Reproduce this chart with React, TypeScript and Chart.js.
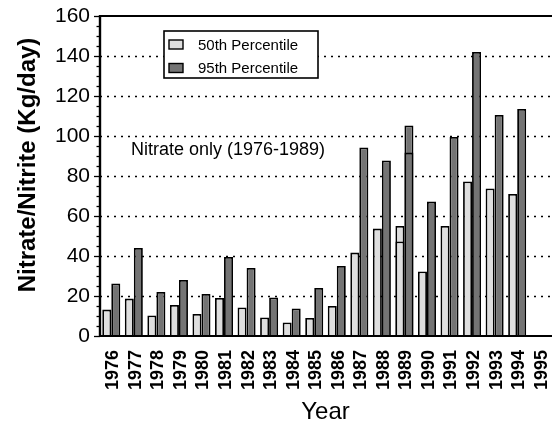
import { useEffect, useRef } from "react";
import { Chart, registerables } from "chart.js";

Chart.register(...registerables);

const FONT = "'Liberation Sans', Arial, Helvetica, sans-serif";

const years = [
  "1976", "1977", "1978", "1979", "1980", "1981", "1982", "1983", "1984", "1985",
  "1986", "1987", "1988", "1989", "1990", "1991", "1992", "1993", "1994", "1995",
];

// Nitrate/nitrite loads, kg/day
const p50 = [13.2, 18.7, 10.3, 15.5, 11, 19, 14.3, 9.3, 6.8, 9, 15, 41.7, 53.7, 47.3, 32.3, 55, 77.3, 73.8, 71, null];
const p95 = [26.3, 44, 22, 28, 21, 39.5, 34, 19.3, 13.8, 24, 35, 94.3, 87.8, 91.7, 67.2, 99.5, 142, 110.5, 113.5, null];

// 1989 carries a second, taller estimate drawn behind the first one
const p50Second = [null, null, null, null, null, null, null, null, null, null, null, null, null, 55, null, null, null, null, null, null];
const p95Second = [null, null, null, null, null, null, null, null, null, null, null, null, null, 105.3, null, null, null, null, null, null];

const yTicks = [0, 20, 40, 60, 80, 100, 120, 140, 160];

const LIGHT = "#dedede";
const DARK = "#747474";

const legendItems = [
  { label: "50th Percentile", color: LIGHT },
  { label: "95th Percentile", color: DARK },
];

const note = "Nitrate only (1976-1989)";
const yTitle = "Nitrate/Nitrite (Kg/day)";

const framePlugin = {
  id: "frame",
  beforeDatasetsDraw(chart: any) {
    const { ctx, chartArea: a, scales } = chart;
    const y = scales.y;
    ctx.save();
    ctx.strokeStyle = "#000";
    ctx.lineWidth = 1.3;
    ctx.setLineDash([2, 5]);
    for (const v of yTicks) {
      if (v <= y.min || v >= y.max) continue;
      const py = Math.round(y.getPixelForValue(v)) + 0.5;
      ctx.beginPath();
      ctx.moveTo(a.left, py);
      ctx.lineTo(chart.width, py);
      ctx.stroke();
    }
    ctx.restore();
  },
  afterDatasetsDraw(chart: any) {
    const { ctx, chartArea: a, scales } = chart;
    const y = scales.y;
    ctx.save();
    ctx.strokeStyle = "#000";
    ctx.setLineDash([]);

    // y-axis tick marks: majors every 20, minors every 5
    ctx.lineWidth = 1.3;
    for (let v = y.min; v <= y.max; v += 5) {
      const py = Math.round(y.getPixelForValue(v)) + 0.5;
      const len = v % 20 === 0 ? 6 : 3.5;
      ctx.beginPath();
      ctx.moveTo(a.left - len, py);
      ctx.lineTo(a.left, py);
      ctx.stroke();
    }

    // axis lines and top frame
    ctx.lineWidth = 2.4;
    ctx.beginPath();
    ctx.moveTo(a.left, a.top - 1);
    ctx.lineTo(a.left, a.bottom + 1);
    ctx.stroke();
    ctx.lineWidth = 2.2;
    ctx.beginPath();
    ctx.moveTo(a.left - 1, a.bottom);
    ctx.lineTo(chart.width, a.bottom);
    ctx.stroke();
    ctx.beginPath();
    ctx.moveTo(a.left - 1, a.top);
    ctx.lineTo(chart.width, a.top);
    ctx.stroke();

    // legend box
    const bx = 164, by = 31, bw = 154, bh = 47;
    ctx.fillStyle = "#fff";
    ctx.fillRect(bx, by, bw, bh);
    ctx.lineWidth = 1.6;
    ctx.strokeRect(bx, by, bw, bh);
    ctx.font = `15px ${FONT}`;
    ctx.textBaseline = "middle";
    ctx.textAlign = "left";
    legendItems.forEach((it, i) => {
      const cy = 44.5 + i * 23.5;
      ctx.fillStyle = it.color;
      ctx.fillRect(169, cy - 4.5, 14, 9);
      ctx.lineWidth = 1.4;
      ctx.strokeRect(169, cy - 4.5, 14, 9);
      ctx.fillStyle = "#000";
      ctx.fillText(it.label, 198, cy + 1);
    });

    // annotation
    ctx.font = `18px ${FONT}`;
    ctx.fillStyle = "#000";
    ctx.fillText(note, 131, 150);

    // y-axis title
    ctx.translate(28, 165);
    ctx.rotate(-Math.PI / 2);
    ctx.font = `bold 24px ${FONT}`;
    ctx.textAlign = "center";
    ctx.fillText(yTitle, 0, 0);
    ctx.restore();
  },
};

function makeDataset(label: string, data: (number | null)[], color: string, stack: string) {
  return {
    label,
    data,
    backgroundColor: color,
    borderColor: "#000",
    borderWidth: 1.8,
    stack,
    categoryPercentage: 0.8,
    barPercentage: 1.0,
  };
}

export default function App() {
  const ref = useRef<HTMLCanvasElement | null>(null);

  useEffect(() => {
    if (!ref.current) return;
    const chart = new Chart(ref.current, {
      type: "bar",
      data: {
        labels: years,
        datasets: [
          makeDataset("50th Percentile", p50, LIGHT, "p50"),
          makeDataset("95th Percentile", p95, DARK, "p95"),
          makeDataset("50th Percentile (1989, second)", p50Second, LIGHT, "p50"),
          makeDataset("95th Percentile (1989, second)", p95Second, DARK, "p95"),
        ],
      },
      options: {
        animation: false,
        responsive: false,
        maintainAspectRatio: false,
        layout: { padding: { top: 16, right: 1, left: 0, bottom: 0 } },
        plugins: {
          legend: { display: false },
          tooltip: { enabled: false },
        },
        scales: {
          x: {
            stacked: true,
            grid: { display: false, drawTicks: false },
            border: { display: false },
            afterFit: (s: any) => {
              s.height = 88;
              s.paddingLeft = 0;
              s.paddingRight = 0;
            },
            ticks: {
              minRotation: 90,
              maxRotation: 90,
              autoSkip: false,
              padding: 14,
              labelOffset: 2,
              color: "#000",
              font: { family: FONT, size: 18, weight: "bold" },
            },
            title: {
              display: true,
              text: "Year",
              color: "#000",
              padding: { top: 0, bottom: 0 },
              font: { family: FONT, size: 24, lineHeight: 1 },
            },
          },
          y: {
            stacked: false,
            min: 0,
            max: 160,
            grid: { display: false, drawTicks: false },
            border: { display: false },
            afterFit: (s: any) => {
              s.width = 100;
              s.paddingTop = 0;
              s.paddingBottom = 0;
            },
            afterBuildTicks: (s: any) => {
              s.ticks = yTicks.map((v) => ({ value: v }));
            },
            ticks: {
              padding: 10,
              color: "#000",
              font: { family: FONT, size: 21 },
            },
          },
        },
      },
      plugins: [framePlugin],
    });
    return () => chart.destroy();
  }, []);

  return (
    <div style={{ position: "fixed", left: 0, top: 0, width: 552, height: 424, background: "#fff" }}>
      <canvas ref={ref} width={552} height={424} style={{ display: "block" }} />
    </div>
  );
}
